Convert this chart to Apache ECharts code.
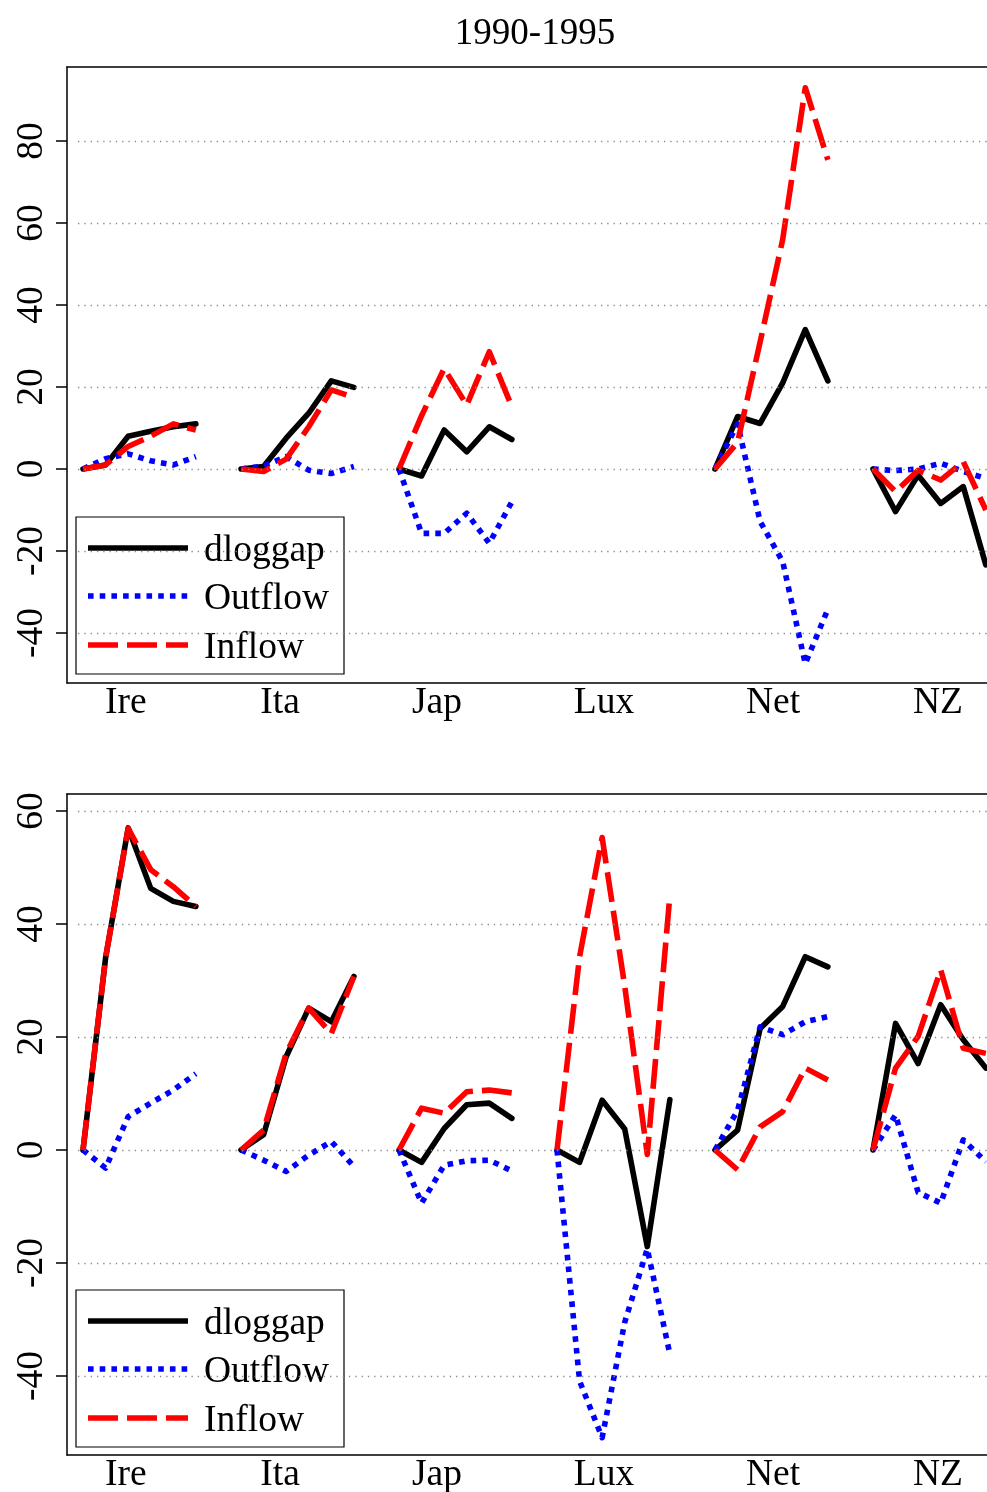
<!DOCTYPE html>
<html>
<head>
<meta charset="utf-8">
<script src="https://cdn.jsdelivr.net/npm/echarts@6/dist/echarts.min.js"></script>
<style>
  html, body { margin: 0; padding: 0; background: #fff; }
  #chart { width: 987px; height: 1492px; }
</style>
</head>
<body>
<div id="chart"></div>
<script>
// Countries along the x axis; each country holds six yearly observations.
const countries = ['Ire', 'Ita', 'Jap', 'Lux', 'Net', 'NZ'];
const countryLabelAt = [2.9, 9.73, 16.68, 24.08, 31.57, 38.88];
const varNames = ['dloggap', 'Outflow', 'Inflow'];
const panelTitle = '1990-1995';

const yTicksTop = [-40, -20, 0, 20, 40, 60, 80];
const yTicksBottom = [-40, -20, 0, 20, 40, 60];

// Upper panel (1990-1995), one row per country, null = no data
const dloggapTop = [
  [0, 1.0, 8.0, 9.2, 10.3, 11.0],
  [0, 0.6, 7.5, 13.6, 21.5, 19.9],
  [0, -1.7, 9.5, 4.2, 10.3, 7.2],
  null,
  [0, 12.8, 11.1, 21.0, 34.0, 21.5],
  [0, -10.4, -1.5, -8.4, -4.3, -23.4]
];
const outflowTop = [
  [0, 2.5, 3.7, 2.0, 1.0, 3.0],
  [0, 0.7, 3.0, -0.3, -1.1, 0.6],
  [0, -15.7, -15.7, -10.8, -18.1, -8.0],
  null,
  [0, 11.0, -12.8, -22.6, -47.5, -34.2],
  [0, -0.4, 0, 1.4, -0.6, -2.3]
];
const inflowTop = [
  [0, 1.0, 5.5, 8.0, 11.0, 9.5],
  [0, -0.6, 2.4, 10.3, 19.3, 17.5],
  [0, 13.0, 24.5, 15.6, 28.6, 15.2],
  null,
  [0, 6.5, 31.0, 56.0, 93.0, 75.4],
  [0, -5.5, -0.3, -2.7, 1.8, -10.0]
];

// Lower panel
const dloggapBottom = [
  [0, 34.0, 57.0, 46.3, 44.0, 43.1],
  [0, 2.7, 16.5, 25.1, 22.7, 30.7],
  [0, -2.2, 3.8, 8.0, 8.3, 5.6],
  [0, -2.2, 8.8, 3.7, -17.1, 8.9],
  [0, 3.5, 21.5, 25.4, 34.2, 32.4],
  [0, 22.4, 15.3, 25.7, 19.5, 14.5]
];
const outflowBottom = [
  [0, -3.2, 5.9, 8.3, 10.6, 13.5],
  [0, -1.8, -3.8, -0.9, 1.5, -2.9],
  [0, -9.4, -2.7, -1.9, -1.8, -3.7],
  [0, -40.9, -50.9, -30.5, -17.5, -36.1],
  [0, 7.0, 21.8, 20.4, 22.7, 23.6],
  [0, 6.2, -7.5, -9.4, 1.8, -2.1]
];
const inflowBottom = [
  [0, 34.0, 56.9, 49.6, 46.6, 43.1],
  [0, 3.5, 17.1, 25.1, 20.6, 30.7],
  [0, 7.4, 6.5, 10.3, 10.6, 10.1],
  [0, 34.2, 55.3, 29.0, -0.8, 45.0],
  [0, -3.5, 4.1, 6.8, 14.5, 12.4],
  [0, 14.5, 20.1, 31.9, 18.0, 17.1]
];

// ---- styling ----
const FONT = 'Liberation Serif';
const FS = 37.5;
const LW = 5.6;
const lineStyles = [
  { color: '#000000', width: LW, type: 'solid', cap: 'round', join: 'round' },
  { color: '#0000FF', width: LW, type: [5.6, 6.1], cap: 'butt', join: 'round' },
  { color: '#FF0000', width: LW, type: [30, 9], cap: 'butt', join: 'round' }
];
// the plotting box continues past the right edge of the page
const X_MIN = 0.29, X_MAX = 41.76, GRID_FROM = 0.78;

function xOf(country, year) { return 7 * country + year + 1; }

function panelSeries(panel, sets, ticks) {
  const out = [];
  sets.forEach((rows, v) => {
    rows.forEach((vals, c) => {
      if (!vals) return;
      out.push({
        type: 'line',
        name: varNames[v],
        xAxisIndex: panel,
        yAxisIndex: panel,
        symbol: 'none',
        z: 2 + v,
        silent: true,
        lineStyle: lineStyles[v],
        data: vals.map((y, k) => [xOf(c, k), y])
      });
    });
  });
  // dotted horizontal reference lines at each labelled value
  out[0].markLine = {
    silent: true,
    symbol: ['none', 'none'],
    label: { show: false },
    lineStyle: { color: '#8a8a8a', width: 1.3, type: [1.3, 5] },
    data: ticks.map(t => [{ coord: [GRID_FROM, t] }, { coord: [X_MAX, t] }])
  };
  return out;
}

function xAxis(panel) {
  return {
    type: 'value', gridIndex: panel, min: X_MIN, max: X_MAX, position: 'bottom',
    axisLine: { show: true, onZero: false, lineStyle: { color: '#000', width: 1.5 } },
    axisTick: { show: false }, splitLine: { show: false },
    axisLabel: {
      customValues: countryLabelAt,
      formatter: v => {
        let best = 0;
        countryLabelAt.forEach((p, i) => { if (Math.abs(p - v) < Math.abs(countryLabelAt[best] - v)) best = i; });
        return countries[best];
      },
      margin: 2, fontFamily: FONT, fontSize: FS, lineHeight: 36, color: '#000'
    }
  };
}

// upper edge of each plotting box
function xAxisTopEdge(panel) {
  return {
    type: 'value', gridIndex: panel, min: X_MIN, max: X_MAX, position: 'top',
    axisLine: { show: true, onZero: false, lineStyle: { color: '#000', width: 1.5 } },
    axisTick: { show: false }, splitLine: { show: false }, axisLabel: { show: false }
  };
}

function yAxis(panel, min, max, ticks) {
  return {
    type: 'value', gridIndex: panel, min: min, max: max,
    axisLine: { show: true, onZero: false, lineStyle: { color: '#000', width: 1.5 } },
    axisTick: { show: true, length: 11, customValues: ticks, lineStyle: { color: '#000', width: 1.5 } },
    splitLine: { show: false },
    axisLabel: {
      customValues: ticks, rotate: 90, margin: 16,
      fontFamily: FONT, fontSize: FS, color: '#000'
    }
  };
}

function legendGraphic(top) {
  const rows = [top + 31, top + 79, top + 128];
  const children = [{
    type: 'rect',
    shape: { x: 76, y: top, width: 268, height: 157 },
    style: { fill: '#fff', stroke: '#000', lineWidth: 1.2 }
  }];
  varNames.forEach((name, i) => {
    const ls = lineStyles[i];
    children.push({
      type: 'line',
      shape: { x1: 88, y1: rows[i], x2: 188, y2: rows[i] },
      style: {
        stroke: ls.color, lineWidth: LW,
        lineDash: Array.isArray(ls.type) ? ls.type : null,
        lineCap: 'butt'
      }
    });
    children.push({
      type: 'text',
      style: {
        text: name, x: 204, y: rows[i] + 3,
        fontFamily: FONT, fontSize: FS, fill: '#000',
        align: 'left', verticalAlign: 'middle'
      }
    });
  });
  return { type: 'group', z: 100, children: children };
}

const chart = echarts.init(document.getElementById('chart'), null, { renderer: 'canvas' });
chart.setOption({
  animation: false,
  backgroundColor: '#fff',
  title: {
    text: panelTitle, left: 530, top: 11, textAlign: 'center',
    textStyle: { fontFamily: FONT, fontSize: 37, fontWeight: 'normal', color: '#000' }
  },
  grid: [
    { left: 67, top: 67, width: 936, height: 616, show: false, outerBoundsMode: 'none', containLabel: false },
    { left: 67, top: 794, width: 936, height: 661, show: false, outerBoundsMode: 'none', containLabel: false }
  ],
  xAxis: [xAxis(0), xAxis(1), xAxisTopEdge(0), xAxisTopEdge(1)],
  yAxis: [
    yAxis(0, -52.2, 98.05, yTicksTop),
    yAxis(1, -53.98, 63.0, yTicksBottom)
  ],
  series: [].concat(
    panelSeries(0, [dloggapTop, outflowTop, inflowTop], yTicksTop),
    panelSeries(1, [dloggapBottom, outflowBottom, inflowBottom], yTicksBottom)
  ),
  graphic: [legendGraphic(517), legendGraphic(1290)]
});
</script>
</body>
</html>
